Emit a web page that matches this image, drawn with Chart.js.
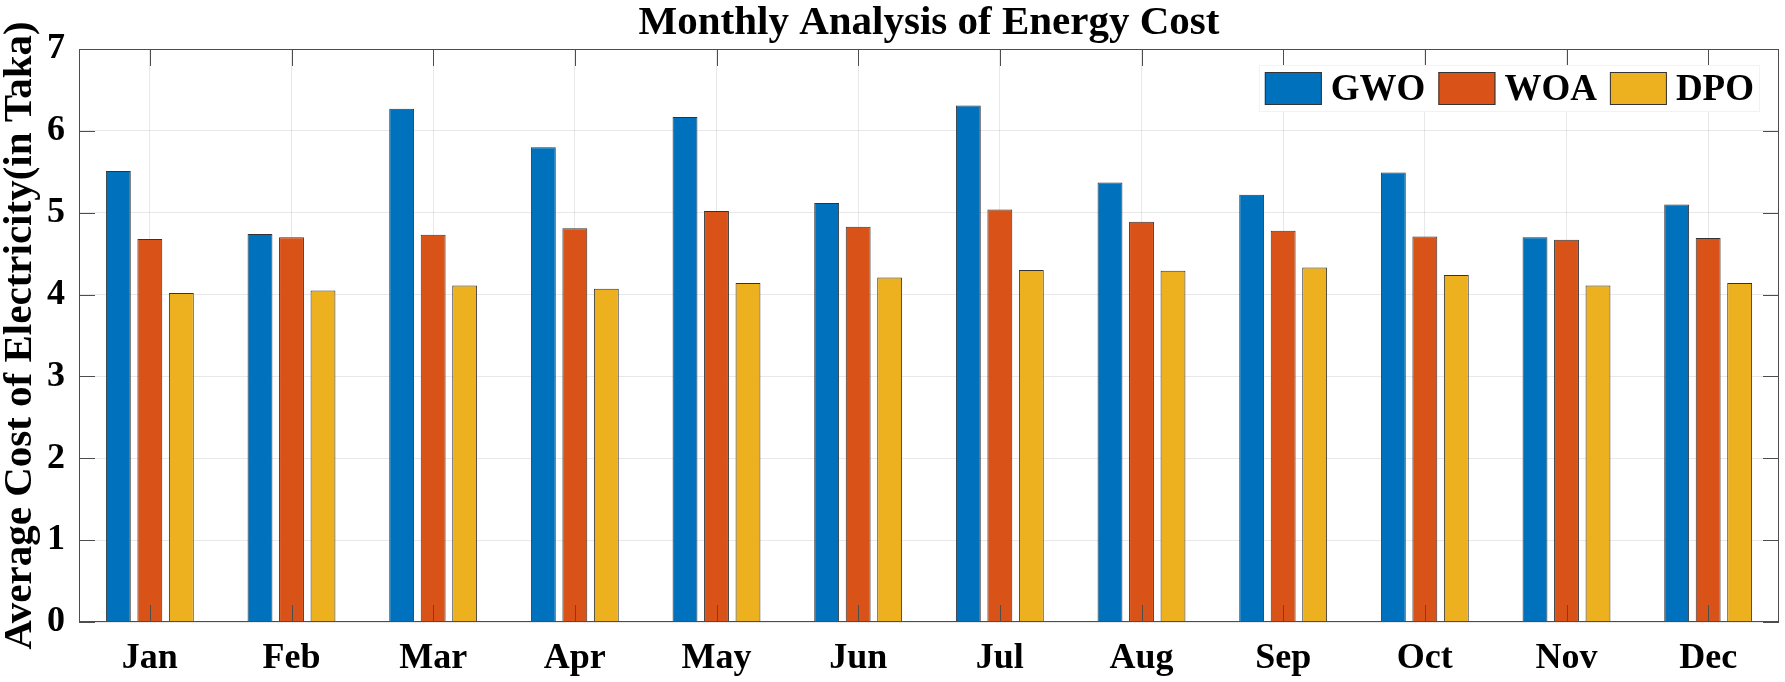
<!DOCTYPE html>
<html>
<head>
<meta charset="utf-8">
<script src="https://cdn.jsdelivr.net/npm/chart.js@4.4.1/dist/chart.umd.min.js"></script>
<style>
html,body{margin:0;padding:0;background:#fff;}
#c{display:block;}
</style>
</head>
<body>
<canvas id="c" width="1785" height="682" style="width:1785px;height:682px"></canvas>
<script>
const categories = ['Jan','Feb','Mar','Apr','May','Jun','Jul','Aug','Sep','Oct','Nov','Dec'];
const gwo = [5.51, 4.74, 6.27, 5.80, 6.17, 5.12, 6.31, 5.37, 5.22, 5.49, 4.70, 5.10];
const woa = [4.68, 4.70, 4.73, 4.81, 5.02, 4.83, 5.04, 4.89, 4.78, 4.71, 4.67, 4.69];
const dpo = [4.02, 4.05, 4.11, 4.07, 4.14, 4.21, 4.30, 4.29, 4.33, 4.24, 4.11, 4.14];
const seriesNames = ['GWO','WOA','DPO'];
const seriesColors = ['#0072BD','#D95319','#EDB120'];
const yTicks = [0,1,2,3,4,5,6,7];

const FONT = '"Liberation Serif", "Times New Roman", serif';

const framePlugin = {
  id: 'frame',
  afterDatasetsDraw(chart) {
    const {ctx, chartArea: a, scales: {x, y}} = chart;
    ctx.save();
    ctx.strokeStyle = '#4d4d4d';
    ctx.lineWidth = 1;
    ctx.beginPath();
    yTicks.forEach(v => {
      const py = Math.round(y.getPixelForValue(v)) + 0.5;
      ctx.moveTo(a.left, py); ctx.lineTo(a.left + 16, py);
      ctx.moveTo(a.right, py); ctx.lineTo(a.right - 16, py);
    });
    categories.forEach((c, i) => {
      const px = Math.round(x.getPixelForValue(i)) + 0.5;
      ctx.moveTo(px, a.bottom); ctx.lineTo(px, a.bottom - 17);
      ctx.moveTo(px, a.top); ctx.lineTo(px, a.top + 17);
    });
    ctx.stroke();
    ctx.strokeRect(Math.round(a.left) + 0.5, Math.round(a.top) + 0.5, Math.round(a.right - a.left) - 1, Math.round(a.bottom - a.top) - 1);

    // legend inside plot area, top right
    ctx.font = 'bold 37px ' + FONT;
    const sw = 57, sh = 33, gapT = 9, gapI = 13, pad = 6;
    const ds = chart.data.datasets;
    const widths = ds.map(d => ctx.measureText(d.label).width);
    let total = pad * 2 + gapI * (ds.length - 1);
    widths.forEach(w => total += sw + gapT + w);
    const boxRight = a.right - 19;
    const boxLeft = boxRight - total;
    const boxTop = a.top + 16, boxH = 47;
    ctx.fillStyle = '#ffffff';
    ctx.fillRect(boxLeft, boxTop, total, boxH);
    ctx.strokeStyle = '#f2f2f2';
    ctx.strokeRect(boxLeft + 0.5, boxTop + 0.5, total - 1, boxH - 1);
    let cx = boxLeft + pad;
    const sy = boxTop + 7;
    ds.forEach((d, i) => {
      ctx.fillStyle = d.backgroundColor;
      ctx.fillRect(cx, sy, sw, sh);
      ctx.strokeStyle = '#333';
      ctx.lineWidth = 1;
      ctx.strokeRect(cx + 0.5, sy + 0.5, sw - 1, sh - 1);
      cx += sw + gapT;
      ctx.fillStyle = '#000';
      ctx.textBaseline = 'middle';
      ctx.textAlign = 'left';
      ctx.fillText(d.label, cx, sy + sh / 2 + 2);
      cx += widths[i] + gapI;
    });
    ctx.restore();
  }
};

new Chart(document.getElementById('c'), {
  type: 'bar',
  data: {
    labels: categories,
    datasets: [gwo, woa, dpo].map((vals, i) => ({
      label: seriesNames[i],
      data: vals,
      backgroundColor: seriesColors[i],
      borderColor: '#333333',
      borderWidth: 1,
      categoryPercentage: 0.667,
      barPercentage: 0.79
    }))
  },
  options: {
    responsive: false,
    animation: false,
    devicePixelRatio: 1,
    layout: { padding: { left: 0, right: 6, top: 0, bottom: 0 } },
    plugins: {
      legend: { display: false },
      tooltip: { enabled: false },
      title: {
        display: true,
        fullSize: false,
        text: 'Monthly Analysis of Energy Cost',
        color: '#000',
        font: { family: FONT, size: 41, weight: 'bold', lineHeight: 1.0 },
        padding: { top: 3, bottom: 5 }
      }
    },
    scales: {
      x: {
        grid: { offset: false, color: 'rgba(0,0,0,0.09)', drawTicks: false },
        border: { display: false },
        ticks: { color: '#000', font: { family: FONT, size: 36, weight: 'bold' }, padding: 15, maxRotation: 0, autoSkip: false },
        afterFit(s) { s.height = 60; }
      },
      y: {
        min: 0, max: 7,
        afterBuildTicks(s) { s.ticks = yTicks.map(v => ({ value: v })); },
        grid: { color: 'rgba(0,0,0,0.09)', drawTicks: false },
        border: { display: false },
        ticks: { color: '#000', font: { family: FONT, size: 36, weight: 'bold' }, padding: 14 },
        title: {
          display: true,
          text: 'Average Cost of Electricity(in Taka)',
          color: '#000',
          font: { family: FONT, size: 41, weight: 'bold', lineHeight: 1.0 },
          padding: 0
        },
        afterFit(s) { s.width = 79; }
      }
    }
  },
  plugins: [framePlugin]
});
</script>
</body>
</html>
